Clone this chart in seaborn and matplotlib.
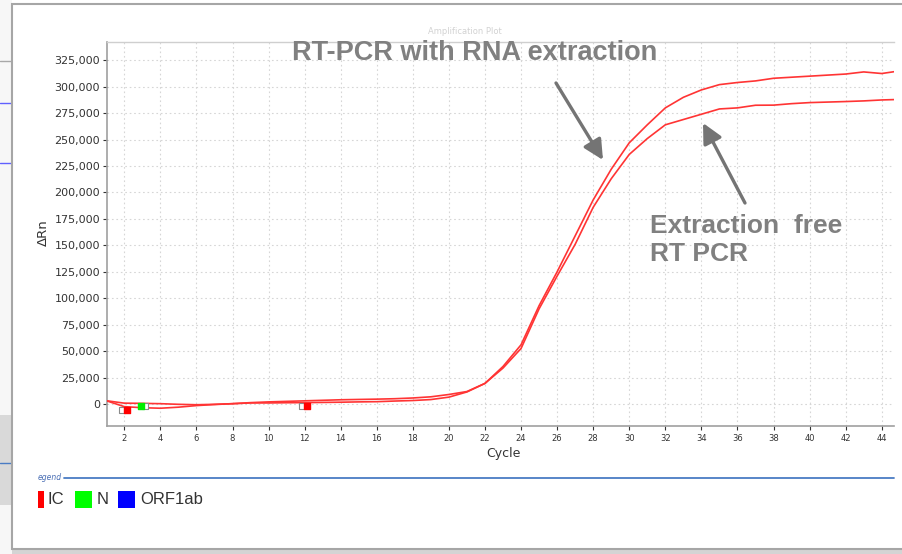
import numpy as np
import pandas as pd
import matplotlib
matplotlib.use("Agg")
import matplotlib.pyplot as plt
import matplotlib.patches as mpatches
from matplotlib.ticker import FuncFormatter
import seaborn as sns

# ---------------- data ----------------
cycles = list(range(1, 46))
rn_with_extraction = [3100, 800, 600, 300, -300, -700, -300, 300, 1300, 2000,
                      2500, 3000, 3500, 4000, 4300, 4600, 5000, 5700, 6800, 9000,
                      11800, 19500, 35500, 56000, 93000, 125000, 159000, 193000, 222000, 247000,
                      264000, 280000, 290000, 297000, 302000, 304000, 305500, 308000, 309000, 310000,
                      311000, 312000, 314000, 312500, 315000]
rn_extraction_free = [3100, -2500, -3500, -4000, -3000, -1500, -500, 300, 1000, 1000,
                      1200, 1300, 1500, 1700, 2000, 2200, 2800, 3300, 4200, 6500,
                      11400, 19500, 34000, 52500, 90000, 121000, 151000, 186000, 213000, 236000,
                      251000, 264000, 269000, 274000, 279000, 280000, 282500, 282600, 284000, 285000,
                      285500, 286000, 286600, 287500, 288000]

# baseline start / end markers (cycle, dRn)
marker_open_x = [1.86, 3.15, 11.85]
marker_open_y = [-5200, -1900, -1900]
marker_red_x = [2.15, 12.12]
marker_red_y = [-5500, -1900]
marker_green_x = [2.9]
marker_green_y = [-1900]

y_ticks = list(range(0, 325001, 25000))
x_ticks = list(range(2, 45, 2))

legend_labels = ["IC", "N", "ORF1ab"]
legend_colors = ["#ff0000", "#00ff00", "#0000ff"]

label_top = "RT-PCR with RNA extraction"
label_free = "Extraction  free\nRT PCR"

# ---------------- figure ----------------
W, H = 903, 554
sns.set_theme(style="white")
plt.rcParams["font.family"] = ["DejaVu Sans"]

fig = plt.figure(figsize=(W / 100, H / 100), dpi=100)
fig.patch.set_facecolor("white")

def fx(px):
    return px / W

def fy(py):
    return 1 - py / H

# ---- screenshot frame decoration (behind everything) ----
fig.patches.append(mpatches.Rectangle((0, 0), fx(12), 1, transform=fig.transFigure,
                                      facecolor="#f7f7f7", edgecolor="none", zorder=-5))
fig.patches.append(mpatches.Rectangle((0, fy(505)), fx(12), fy(415) - fy(505), transform=fig.transFigure,
                                      facecolor="#d9d9d9", edgecolor="none", zorder=-4))
for yy, cc in [(61, "#a8a8a8"), (103, "#6060ff"), (163, "#6060ff"), (463, "#4a7cc4")]:
    fig.add_artist(plt.Line2D([0, fx(12)], [fy(yy), fy(yy)], transform=fig.transFigure,
                              color=cc, lw=1, zorder=-3))
fig.patches.append(mpatches.Rectangle((fx(12), 0), 1.0, fy(549), transform=fig.transFigure,
                                      facecolor="#d4d4d4", edgecolor="none", zorder=-3))
fig.patches.append(mpatches.Rectangle((fx(12), fy(549)), 1.0, fy(4) - fy(549), transform=fig.transFigure,
                                      facecolor="white", edgecolor="#a6a6a6", lw=1.5, zorder=-2))

# ---- axes ----
ax = fig.add_axes([fx(107), fy(426), fx(894) - fx(107), fy(42) - fy(426)])
ax.set_facecolor("white")

df = pd.DataFrame({
    "Cycle": cycles * 2,
    "dRn": rn_with_extraction + rn_extraction_free,
    "Method": ["with extraction"] * len(cycles) + ["extraction free"] * len(cycles),
})
sns.lineplot(data=df, x="Cycle", y="dRn", hue="Method",
             palette=["#ff3434", "#ff3434"], legend=False, ax=ax, lw=1.2, zorder=3)

ax.scatter(marker_open_x, marker_open_y, marker="s", s=16, facecolor="white",
           edgecolor="#8a8a8a", linewidths=0.8, zorder=4)
ax.scatter(marker_red_x, marker_red_y, marker="s", s=18, color="#ff0000", zorder=5)
ax.scatter(marker_green_x, marker_green_y, marker="s", s=18, color="#00ee00", zorder=5)

ax.set_xlim(1.04, 44.68)
ax.set_ylim(-20800, 342300)
ax.set_xticks(x_ticks)
ax.set_yticks(y_ticks)
ax.yaxis.set_major_formatter(FuncFormatter(lambda v, p: f"{int(v):,}"))
ax.grid(True, color="#d6d6d6", linestyle=(0, (1.5, 2.5)), lw=0.8)
ax.tick_params(axis="y", labelsize=8, colors="#333333", length=3, width=0.8, pad=2, left=True)
ax.tick_params(axis="x", labelsize=6, colors="#333333", length=3, width=0.8, pad=3, bottom=True)
for s in ["left", "bottom"]:
    ax.spines[s].set_color("#a0a0a0")
    ax.spines[s].set_linewidth(1.2)
ax.spines["top"].set_color("#cfcfcf")
ax.spines["top"].set_linewidth(1.0)
ax.spines["right"].set_visible(False)

ax.set_xlabel("Cycle", fontsize=9, color="#333333")
ax.set_ylabel("ΔRn", fontsize=9.5, color="#333333")
ax.xaxis.set_label_coords((503 - 107) / (894 - 107), (426 - 454) / (426 - 42), transform=ax.transAxes)
ax.yaxis.set_label_coords((43 - 107) / (894 - 107), (426 - 233) / (426 - 42), transform=ax.transAxes)
ax.xaxis.label.set_va("center")
ax.yaxis.label.set_va("center")

# faint title (mostly hidden in the reference)
fig.text(fx(465), fy(31), "Amplification Plot", fontsize=6, color="#d2d2d2",
         ha="center", va="center")

# ---- annotations ----
fig.text(fx(475), fy(53), label_top, fontsize=19.5, fontweight="bold", color="#808080",
         family=["Liberation Sans", "DejaVu Sans"], ha="center", va="center", zorder=10)
fig.text(fx(650), fy(240), label_free, fontsize=19, fontweight="bold", color="#808080",
         family=["Liberation Sans", "DejaVu Sans"], ha="left", va="center", linespacing=1.2, zorder=10)

arrow_kw = dict(arrowstyle="-|>,head_length=0.6,head_width=0.3", color="#747474", lw=2.4,
                shrinkA=0, shrinkB=0, mutation_scale=20)
fig.add_artist(mpatches.FancyArrowPatch((fx(556), fy(83)), (fx(603), fy(160)),
                                        transform=fig.transFigure, zorder=10, **arrow_kw))
fig.add_artist(mpatches.FancyArrowPatch((fx(745), fy(203)), (fx(703), fy(123)),
                                        transform=fig.transFigure, zorder=10, **arrow_kw))

# ---- legend strip ----
fig.text(fx(38), fy(478), "egend", fontsize=5.5, style="italic", color="#4a6fb5",
         ha="left", va="center")
fig.add_artist(plt.Line2D([fx(64), fx(894)], [fy(478), fy(478)], transform=fig.transFigure,
                          color="#4a7cc4", lw=1.3))
leg_x = [38, 75, 118]
leg_w = [6, 17, 17]
leg_tx = [48, 97, 140]
for lab, col, x0, w, tx in zip(legend_labels, legend_colors, leg_x, leg_w, leg_tx):
    fig.patches.append(mpatches.Rectangle((fx(x0), fy(508)), fx(w), fy(491) - fy(508),
                                          transform=fig.transFigure, facecolor=col,
                                          edgecolor="none", zorder=5))
    fig.text(fx(tx), fy(500), lab, fontsize=12, color="#333333",
             family=["Liberation Sans", "DejaVu Sans"], ha="left", va="center")

fig.savefig("out.png", dpi=100)
